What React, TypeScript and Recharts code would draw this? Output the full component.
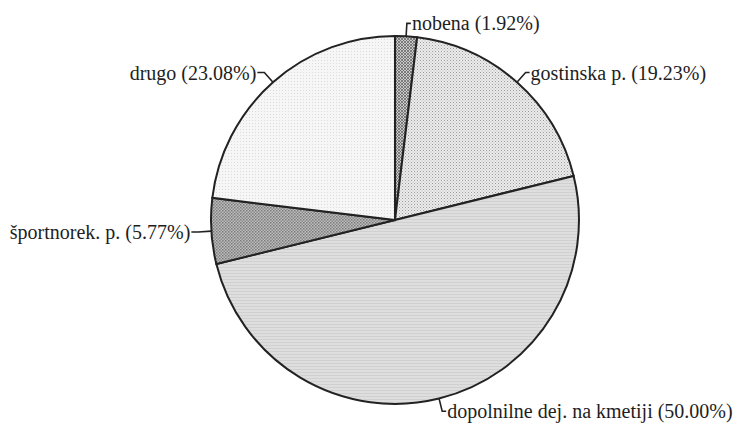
import { PieChart, Pie, Cell } from 'recharts';

const categories = ['nobena', 'gostinska p.', 'dopolnilne dej. na kmetiji', 'športnorek. p.', 'drugo'];
const shares = [1.92, 19.23, 50.0, 5.77, 23.08];
const patternIds = ['pNobena', 'pGostinska', 'pDopolnilne', 'pSport', 'pDrugo'];

const data = categories.map((name, i) => ({ name, value: shares[i] }));

const RADIAN = Math.PI / 180;

function renderLabel(props: any) {
  const { cx, cy, midAngle, outerRadius, name, value } = props;
  const cos = Math.cos(-midAngle * RADIAN);
  const sin = Math.sin(-midAngle * RADIAN);
  const x0 = cx + outerRadius * cos;
  const y0 = cy + outerRadius * sin;
  const x1 = cx + (outerRadius + 13) * cos;
  const y1 = cy + (outerRadius + 13) * sin;
  const right = cos >= 0;
  const x2 = x1 + (right ? 4 : -7);
  const tx = x2 + (right ? 1 : -1);
  return (
    <g>
      <polyline points={`${x0},${y0} ${x1},${y1} ${x2},${y1}`} fill="none" stroke="#222" strokeWidth={1.6} />
      <text
        x={tx}
        y={y1}
        dy={7}
        textAnchor={right ? 'start' : 'end'}
        fill="#1e1e1e"
        style={{ fontFamily: '"Liberation Serif"', fontSize: 20 }}
      >
        {`${name} (${value.toFixed(2)}%)`}
      </text>
    </g>
  );
}

export default function App() {
  return (
    <div style={{ position: 'absolute', left: 0, top: 0, width: 739, height: 431, background: '#fff' }}>
      <PieChart width={739} height={431} margin={{ top: 0, right: 0, bottom: 0, left: 0 }}>
        <defs>
          <pattern id="pNobena" width="3" height="3" patternUnits="userSpaceOnUse">
            <rect width="3" height="3" fill="#c8c8c8" />
            <path d="M0,0 L3,3 M3,0 L0,3" stroke="#6a6a6a" strokeWidth="0.8" />
          </pattern>
          <pattern id="pGostinska" width="3" height="3" patternUnits="userSpaceOnUse">
            <rect width="3" height="3" fill="#ececec" />
            <rect x="0" y="0" width="1" height="1" fill="#9a9a9a" />
            <rect x="1.5" y="1.5" width="1" height="1" fill="#b0b0b0" />
          </pattern>
          <pattern id="pDopolnilne" width="4" height="3" patternUnits="userSpaceOnUse">
            <rect width="4" height="3" fill="#dedede" />
            <rect x="0" y="0" width="4" height="1" fill="#d0d0d0" />
          </pattern>
          <pattern id="pSport" width="3" height="3" patternUnits="userSpaceOnUse">
            <rect width="3" height="3" fill="#bdbdbd" />
            <rect x="0" y="0" width="1.5" height="1.5" fill="#7a7a7a" />
            <rect x="1.5" y="1.5" width="1.5" height="1.5" fill="#8a8a8a" />
          </pattern>
          <pattern id="pDrugo" width="3" height="3" patternUnits="userSpaceOnUse">
            <rect width="3" height="3" fill="#f6f6f6" />
            <rect x="0" y="0" width="1" height="1" fill="#dcdcdc" />
          </pattern>
        </defs>
        <Pie
          data={data}
          dataKey="value"
          nameKey="name"
          cx={395}
          cy={220}
          outerRadius={184}
          startAngle={90}
          endAngle={-270}
          stroke="#222"
          strokeWidth={2}
          label={renderLabel}
          labelLine={false}
          isAnimationActive={false}
        >
          {data.map((d, i) => (
            <Cell key={d.name} fill={`url(#${patternIds[i]})`} />
          ))}
        </Pie>
      </PieChart>
    </div>
  );
}
